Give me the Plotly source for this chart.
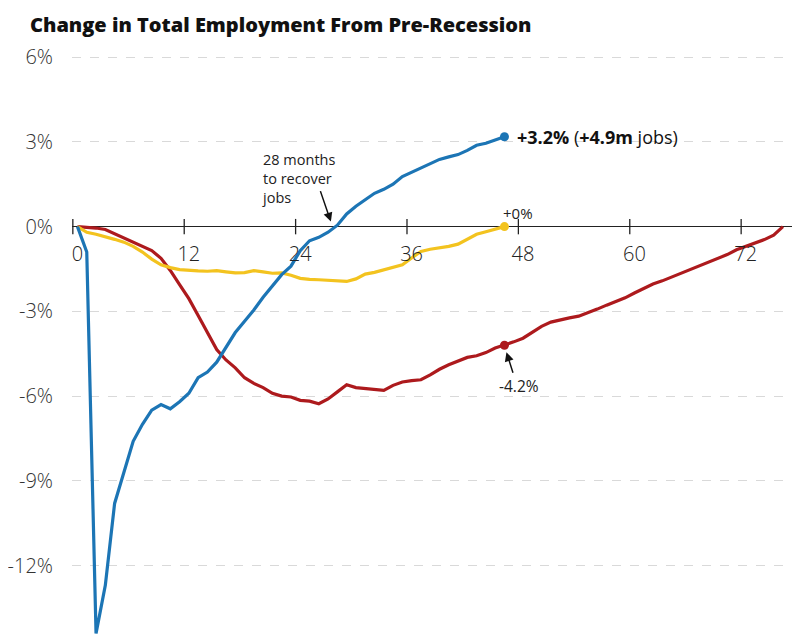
import plotly.graph_objects as go

# ---- data (months since pre-recession peak, % change in total employment) ----
covid_months = list(range(0, 47))
covid_pct = [0, -0.9, -14.4, -12.7, -9.8, -8.7, -7.6, -7.0, -6.5, -6.3,
             -6.45, -6.2, -5.9, -5.35, -5.15, -4.8, -4.25, -3.75, -3.35, -2.95,
             -2.5, -2.1, -1.7, -1.4, -0.85, -0.5, -0.38, -0.2, 0.05, 0.45,
             0.72, 0.95, 1.18, 1.32, 1.5, 1.77, 1.92, 2.1, 2.25, 2.38,
             2.47, 2.55, 2.7, 2.88, 2.95, 3.06, 3.18]

dotcom_months = list(range(0, 47))
dotcom_pct = [0, -0.2, -0.27, -0.35, -0.45, -0.55, -0.7, -0.9, -1.15, -1.35,
              -1.45, -1.52, -1.55, -1.57, -1.58, -1.56, -1.6, -1.64, -1.63, -1.56,
              -1.6, -1.65, -1.64, -1.72, -1.83, -1.87, -1.88, -1.9, -1.91, -1.94,
              -1.85, -1.68, -1.62, -1.53, -1.45, -1.35, -1.11, -0.88, -0.8, -0.75,
              -0.7, -0.62, -0.45, -0.27, -0.18, -0.1, 0]

great_months = list(range(0, 77))
great_pct = [0, -0.02, -0.05, -0.1, -0.25, -0.4, -0.52, -0.68, -0.85, -1.12,
             -1.55, -2.05, -2.55, -3.15, -3.75, -4.35, -4.72, -5.0, -5.35, -5.55,
             -5.7, -5.9, -6.0, -6.03, -6.15, -6.18, -6.27, -6.1, -5.85, -5.6,
             -5.7, -5.74, -5.76, -5.8, -5.62, -5.5, -5.45, -5.42, -5.25, -5.05,
             -4.89, -4.77, -4.63, -4.57, -4.46, -4.3, -4.2, -4.08, -3.95, -3.74,
             -3.53, -3.38, -3.3, -3.23, -3.17, -3.05, -2.92, -2.78, -2.66, -2.52,
             -2.35, -2.18, -2.03, -1.92, -1.79, -1.66, -1.52, -1.39, -1.26, -1.12,
             -0.99, -0.82, -0.7, -0.6, -0.46, -0.3, 0]

x_ticks = [0, 12, 24, 36, 48, 60, 72]
y_ticks = [6, 3, 0, -3, -6, -9, -12]
y_tick_text = ["6%", "3%", "0%", "-3%", "-6%", "-9%", "-12%"]

label_month = 46
covid_label = "<b>+3.2%</b> (<b>+4.9m</b> jobs)"
dotcom_label = "+0%"
great_label = "-4.2%"
recover_note = "28 months<br>to recover<br>jobs"
recover_month = 28

# style
BLUE = "#1c75b5"
RED = "#ad1a1d"
YELLOW = "#f3c31f"
FONT = "Open Sans"
TICK_MARK_OFFSET = -0.5   # tick marks sit half a month left of their labels
X_RANGE = [-0.59, 77.84]
Y_RANGE = [-14.67, 6.43]
PAGE_PAD = 8              # browser body margin around the figure

fig = go.Figure()

# tick marks crossing the zero axis
fig.add_trace(go.Scatter(
    x=[v + TICK_MARK_OFFSET for v in x_ticks], y=[0] * len(x_ticks), mode="markers",
    marker=dict(symbol="line-ns", size=11, line=dict(color="#222", width=1.3)),
    hoverinfo="skip", showlegend=False))

for xs, ys, c in [(great_months, great_pct, RED),
                  (dotcom_months, dotcom_pct, YELLOW),
                  (covid_months, covid_pct, BLUE)]:
    fig.add_trace(go.Scatter(x=xs, y=ys, mode="lines",
                             line=dict(color=c, width=3.2),
                             showlegend=False, hoverinfo="skip"))
    i = xs.index(label_month)
    fig.add_trace(go.Scatter(x=[xs[i]], y=[ys[i]], mode="markers",
                             marker=dict(color=c, size=9),
                             showlegend=False, hoverinfo="skip"))

ci = covid_months.index(label_month)
di = dotcom_months.index(label_month)
gi = great_months.index(label_month)

annotations = [
    dict(x=covid_months[ci], y=covid_pct[ci], text=covid_label, showarrow=False,
         xanchor="left", yanchor="middle", xshift=11,
         font=dict(family=FONT, size=18, color="#111")),
    dict(x=dotcom_months[di], y=dotcom_pct[di], text=dotcom_label, showarrow=False,
         xanchor="center", yanchor="middle", xshift=14, yshift=14,
         font=dict(family=FONT, size=15, color="#222")),
    dict(x=great_months[gi], y=great_pct[gi], text=great_label, showarrow=False,
         xanchor="center", yanchor="middle", xshift=15, yshift=-41,
         font=dict(family=FONT, size=15.5, color="#222")),
    dict(x=great_months[gi], y=great_pct[gi], text="", showarrow=True,
         xshift=2, yshift=-7, ax=7, ay=22, arrowhead=2, arrowsize=1.2,
         arrowwidth=1.5, arrowcolor="#111", standoff=0),
    dict(x=recover_month, y=0, text=recover_note, showarrow=False,
         xanchor="left", yanchor="middle", align="left", xshift=-77, yshift=48,
         font=dict(family=FONT, size=14.5, color="#222")),
    dict(x=recover_month, y=0, text="", showarrow=True,
         xshift=-6.5, yshift=5, ax=-11, ay=-32, arrowhead=2, arrowsize=1.2,
         arrowwidth=1.5, arrowcolor="#111", standoff=0),
]

W, H = 800 - PAGE_PAD, 641 - PAGE_PAD
fig.update_layout(
    width=W, height=H,
    paper_bgcolor="white", plot_bgcolor="white",
    margin=dict(l=68 - PAGE_PAD, r=0, t=45 - PAGE_PAD, b=0),
    title=dict(text="Change in Total Employment From Pre-Recession",
               x=(30 - PAGE_PAD) / W, xanchor="left",
               y=1 - (25 - PAGE_PAD) / H, yanchor="middle",
               font=dict(family=FONT, size=20, color="#111", weight=800)),
    annotations=annotations,
    showlegend=False,
)

fig.update_xaxes(
    range=X_RANGE, tickvals=x_ticks, ticktext=[str(v) for v in x_ticks],
    showgrid=False, zeroline=False, showline=False, ticks="",
    anchor="free", position=(0 - Y_RANGE[0]) / (Y_RANGE[1] - Y_RANGE[0]),
    ticklabelstandoff=13,
    tickfont=dict(family=FONT, size=20, color="#222", weight=300),
)
fig.update_yaxes(
    range=Y_RANGE, tickvals=y_ticks, ticktext=y_tick_text,
    showgrid=True, gridcolor="#d9d9d9", griddash="dash", gridwidth=1,
    zeroline=True, zerolinecolor="#222", zerolinewidth=1.3,
    showline=False, ticks="", ticklabelstandoff=18,
    tickfont=dict(family=FONT, size=20, color="#333", weight=300),
)

fig.write_html("out.html")
